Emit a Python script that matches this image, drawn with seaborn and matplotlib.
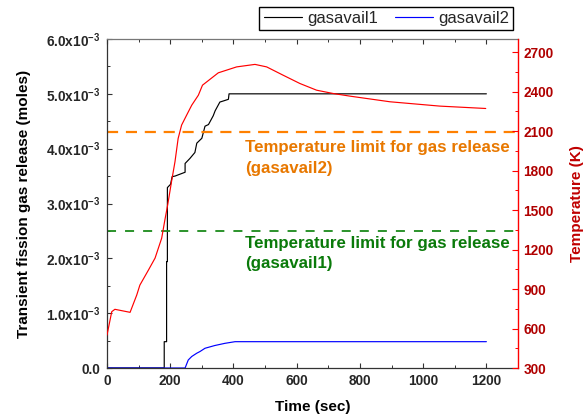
import numpy as np
import pandas as pd
import matplotlib
matplotlib.use("Agg")
import matplotlib.pyplot as plt
import seaborn as sns
from matplotlib.ticker import MultipleLocator, FuncFormatter, FixedLocator

# ---------------- data ----------------
series_labels = ["gasavail1", "gasavail2"]

# gasavail1 (black), released gas in units of 1e-3 moles
time_gas1 = [0, 181, 181, 188.5, 188.5, 191, 191, 201, 206, 215, 247, 247, 262, 278,
             284, 300, 310, 321, 336, 342, 357, 368, 384, 386, 1200]
gas1_milli = [0, 0, 0.48, 0.48, 1.94, 1.94, 3.29, 3.35, 3.49, 3.50, 3.57, 3.73, 3.82, 3.93,
              4.10, 4.19, 4.41, 4.44, 4.60, 4.69, 4.85, 4.87, 4.90, 5.00, 5.00]

# gasavail2 (blue)
time_gas2 = [0, 247, 257, 268, 284, 294, 310, 341, 373, 405, 1200]
gas2_milli = [0, 0, 0.146, 0.21, 0.27, 0.30, 0.36, 0.41, 0.45, 0.48, 0.48]

# temperature (red, right axis)
time_temp = [0, 15, 25, 73, 94, 104, 131, 152, 173, 183, 192, 204, 215, 225, 236, 252,
             268, 289, 302, 352, 410, 468, 505, 557, 610, 663, 715, 768, 895, 1053, 1198]
temp_K = [550, 728, 746, 723, 854, 930, 1044, 1135, 1287, 1424, 1540, 1715, 1867, 2044,
          2146, 2222, 2297, 2373, 2449, 2543, 2588, 2607, 2588, 2525, 2462, 2411, 2386,
          2366, 2323, 2290, 2272]

limit_gasavail2_milli = 4.3
limit_gasavail1_milli = 2.5
limit_texts = ["Temperature limit for gas release\n(gasavail2)",
               "Temperature limit for gas release\n(gasavail1)"]

x_ticks = [0, 200, 400, 600, 800, 1000, 1200]
y_ticks_milli = [0, 1, 2, 3, 4, 5, 6]
temp_ticks = [300, 600, 900, 1200, 1500, 1800, 2100, 2400, 2700]

# ---------------- style ----------------
sns.set_style("ticks")
plt.rcParams["font.family"] = ["Liberation Sans", "DejaVu Sans"]
plt.rcParams["font.weight"] = "bold"
plt.rcParams.update({
    "mathtext.fontset": "custom",
    "mathtext.rm": "Liberation Sans:bold",
    "mathtext.it": "Liberation Sans:bold",
    "mathtext.bf": "Liberation Sans:bold",
})

W, H = 587, 417
fig = plt.figure(figsize=(W / 100, H / 100), dpi=100)
ax = fig.add_axes([107 / W, 49 / H, 411 / W, 329 / H])
ax2 = ax.twinx()

df1 = pd.DataFrame({"t": time_gas1, "g": np.array(gas1_milli) * 1e-3})
df2 = pd.DataFrame({"t": time_gas2, "g": np.array(gas2_milli) * 1e-3})
dft = pd.DataFrame({"t": time_temp, "T": temp_K})

sns.lineplot(data=df1, x="t", y="g", ax=ax, color="black", lw=0.85,
             estimator=None, sort=False, label=series_labels[0])
sns.lineplot(data=df2, x="t", y="g", ax=ax, color="#0000FF", lw=0.85,
             estimator=None, sort=False, label=series_labels[1])
sns.lineplot(data=dft, x="t", y="T", ax=ax2, color="#FF0000", lw=0.85,
             estimator=None, sort=False, legend=False)

handles, labels = ax.get_legend_handles_labels()
if ax.get_legend() is not None:
    ax.get_legend().remove()

ax.axhline(limit_gasavail2_milli * 1e-3, color="#FF8000", lw=1.6, dashes=(5, 3.5))
ax.axhline(limit_gasavail1_milli * 1e-3, color="#1A8A1A", lw=1.3, dashes=(5, 5))

ax.text(436, 4.15e-3, limit_texts[0], color="#E87800", fontsize=12.2,
        fontweight="bold", ha="left", va="top", linespacing=1.45)
ax.text(436, 2.41e-3, limit_texts[1], color="#0A7A0A", fontsize=12.2,
        fontweight="bold", ha="left", va="top", linespacing=1.45)

# ---------------- axes ----------------
ax.set_xlim(0, 1300)
ax.set_ylim(0, 6e-3)
ax2.set_ylim(300, 2800)

ax.xaxis.set_major_locator(FixedLocator(x_ticks))
ax.xaxis.set_minor_locator(MultipleLocator(100))
ax.yaxis.set_major_locator(FixedLocator([v * 1e-3 for v in y_ticks_milli]))
ax.yaxis.set_minor_locator(MultipleLocator(0.5e-3))


def fmt_left(v, pos):
    m = v * 1e3
    if abs(m) < 1e-9:
        return "0.0"
    return r"$\mathrm{%.1fx10^{-3}}$" % m


ax.yaxis.set_major_formatter(FuncFormatter(fmt_left))
ax2.yaxis.set_major_locator(FixedLocator(temp_ticks))
ax2.yaxis.set_minor_locator(MultipleLocator(150))

ax.tick_params(axis="x", which="both", direction="in", top=True, bottom=True,
               color="#333333", labelsize=9.8, pad=4.5)
ax.tick_params(axis="y", which="both", direction="in", left=True, right=False,
               color="#333333", labelsize=9.8, pad=4.5)
ax.tick_params(which="major", length=3.5, width=0.8)
ax.tick_params(which="minor", length=2, width=0.7)
ax2.tick_params(axis="y", which="both", direction="in", color="#FF0000",
                labelcolor="#B00000", labelsize=9.8, pad=4)
ax2.tick_params(which="major", length=4, width=0.8)
ax2.tick_params(which="minor", length=2.5, width=0.7)

for s in ["left", "bottom"]:
    ax.spines[s].set_color("#333333")
    ax.spines[s].set_linewidth(0.9)
ax.spines["top"].set_color("#777777")
ax.spines["top"].set_linewidth(0.9)
for s in ["left", "bottom", "top"]:
    ax2.spines[s].set_visible(False)
ax2.spines["right"].set_color("#FF0000")
ax2.spines["right"].set_linewidth(1.0)
ax.spines["right"].set_visible(False)

ax.set_xlabel("Time (sec)", fontsize=11, fontweight="bold", color="black")
ax.set_ylabel("Transient fission gas release (moles)", fontsize=11,
              fontweight="bold", color="black")
ax2.set_ylabel("Temperature (K)", fontsize=11, fontweight="bold", color="#C00000")
ax.xaxis.set_label_coords(0.5, -0.098)
ax.yaxis.set_label_coords(-0.185, 0.5)
ax2.yaxis.set_label_coords(1.127, 0.5)

fig.legend(handles, labels, loc="upper right", bbox_to_anchor=(513 / W, 1 - 7 / H),
           ncol=2, frameon=True, fancybox=False, edgecolor="black", framealpha=1,
           prop={"size": 12, "weight": "normal"}, handlelength=2.3,
           handletextpad=0.3, columnspacing=1.0, borderpad=0.25, borderaxespad=0)
fig.legends[-1].get_frame().set_linewidth(1.0)

fig.savefig("out.png", dpi=100)
